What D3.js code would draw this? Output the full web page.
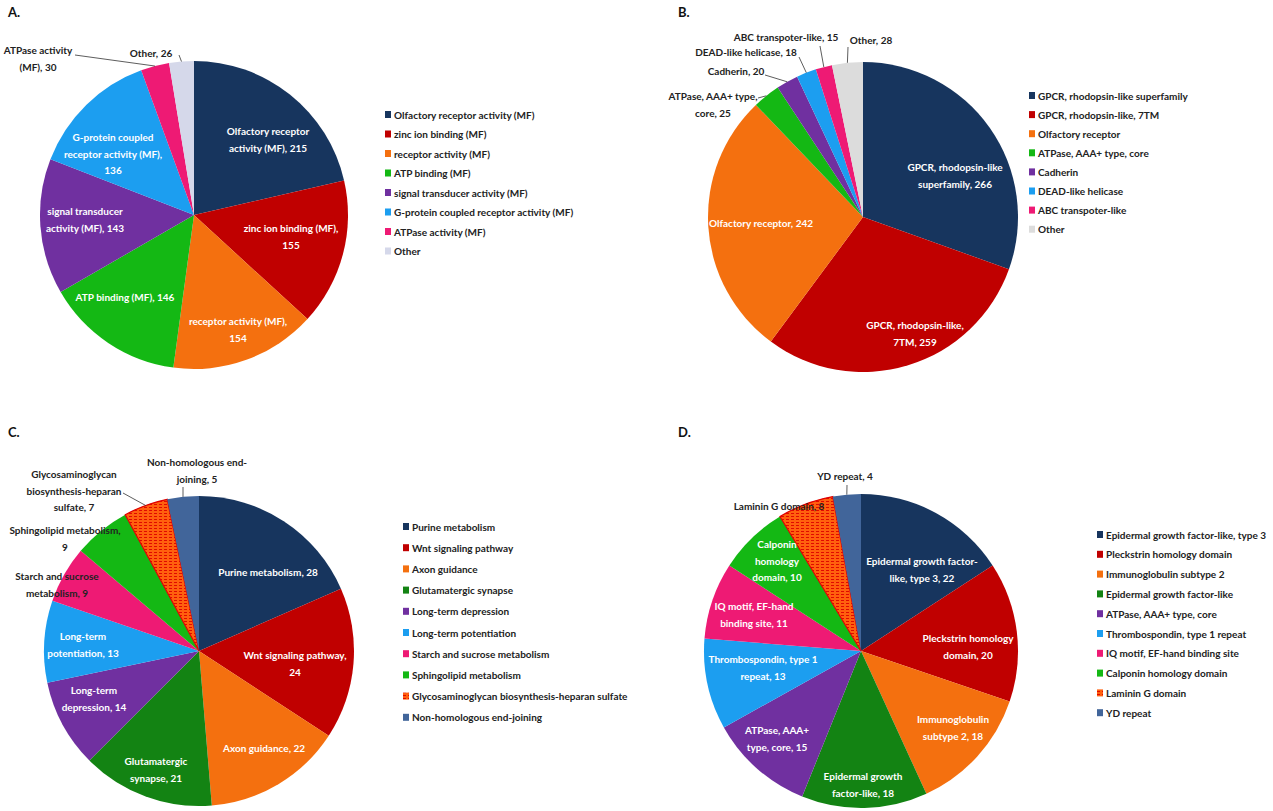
<!DOCTYPE html>
<html>
<head>
<meta charset="utf-8">
<script src="https://cdn.jsdelivr.net/npm/d3@7"></script>
<style>
  body { margin: 0; background: #fff; }
  text { font-family: Lato, "Noto Sans", sans-serif; font-weight: 700; }
</style>
</head>
<body>
<script>
// colours used in all four pies
var navy = "#17355e", red = "#c00000", orange = "#f4700f", green = "#14b814",
    dkgreen = "#138313", purple = "#7030a0", blue = "#1c9ef0", pink = "#ee1a74",
    steel = "#41659a";

// A. GO terms
var catsA = ["Olfactory receptor activity (MF)", "zinc ion binding (MF)", "receptor activity (MF)",
  "ATP binding (MF)", "signal transducer activity (MF)", "G-protein coupled receptor activity (MF)",
  "ATPase activity (MF)", "Other"];
var valsA = [215, 155, 154, 146, 143, 136, 30, 26];
var labelsA = [["Olfactory receptor", "activity (MF), {v}"], ["zinc ion binding (MF),", "{v}"],
  ["receptor activity (MF),", "{v}"], ["ATP binding (MF), {v}"], ["signal transducer", "activity (MF), {v}"],
  ["G-protein coupled", "receptor activity (MF),", "{v}"], ["ATPase activity", "(MF), {v}"], ["Other, {v}"]];

// B. InterPro
var catsB = ["GPCR, rhodopsin-like superfamily", "GPCR, rhodopsin-like, 7TM", "Olfactory receptor",
  "ATPase, AAA+ type, core", "Cadherin", "DEAD-like helicase", "ABC transpoter-like", "Other"];
var valsB = [266, 259, 242, 25, 20, 18, 15, 28];
var labelsB = [["GPCR, rhodopsin-like", "superfamily, {v}"], ["GPCR, rhodopsin-like,", "7TM, {v}"],
  ["Olfactory receptor, {v}"], ["ATPase, AAA+ type,", "core, {v}"], ["Cadherin, {v}"],
  ["DEAD-like helicase, {v}"], ["ABC transpoter-like, {v}"], ["Other, {v}"]];

// C. KEGG pathways
var catsC = ["Purine metabolism", "Wnt signaling pathway", "Axon guidance", "Glutamatergic synapse",
  "Long-term depression", "Long-term potentiation", "Starch and sucrose metabolism",
  "Sphingolipid metabolism", "Glycosaminoglycan biosynthesis-heparan sulfate", "Non-homologous end-joining"];
var valsC = [28, 24, 22, 21, 14, 13, 9, 9, 7, 5];
var labelsC = [["Purine metabolism, {v}"], ["Wnt signaling pathway,", "{v}"], ["Axon guidance, {v}"],
  ["Glutamatergic", "synapse, {v}"], ["Long-term", "depression, {v}"], ["Long-term", "potentiation, {v}"],
  ["Starch and sucrose", "metabolism, {v}"], ["Sphingolipid metabolism,", "{v}"],
  ["Glycosaminoglycan", "biosynthesis-heparan", "sulfate, {v}"], ["Non-homologous end-", "joining, {v}"]];

// D. domains
var catsD = ["Epidermal growth factor-like, type 3", "Pleckstrin homology domain", "Immunoglobulin subtype 2",
  "Epidermal growth factor-like", "ATPase, AAA+ type, core", "Thrombospondin, type 1 repeat",
  "IQ motif, EF-hand binding site", "Calponin homology domain", "Laminin G domain", "YD repeat"];
var valsD = [22, 20, 18, 18, 15, 13, 11, 10, 8, 4];
var labelsD = [["Epidermal growth factor-", "like, type 3, {v}"], ["Pleckstrin homology", "domain, {v}"],
  ["Immunoglobulin", "subtype 2, {v}"], ["Epidermal growth", "factor-like, {v}"], ["ATPase, AAA+", "type, core, {v}"],
  ["Thrombospondin, type 1", "repeat, {v}"], ["IQ motif, EF-hand", "binding site, {v}"],
  ["Calponin", "homology", "domain, {v}"], ["Laminin G domain, {v}"], ["YD repeat, {v}"]];

var svg = d3.select("body").append("svg").attr("width", 1273).attr("height", 811);

// hatched orange/red fill for the small slice in C and D
var defs = svg.append("defs");
var pat = defs.append("pattern").attr("id", "hatch").attr("patternUnits", "userSpaceOnUse")
    .attr("width", 5).attr("height", 3);
pat.append("rect").attr("width", 5).attr("height", 3).attr("fill", "#ff600e");
pat.append("rect").attr("width", 3).attr("height", 1).attr("fill", "#e00a00");

var panels = [
  { tag: "A.", tx: 8, ty: 17, cx: 194, cy: 215, r: 154, cats: catsA, vals: valsA, labels: labelsA,
    colors: [navy, red, orange, green, purple, blue, pink, "#d5d8ea"],
    pos: [[74, -75], [97, 22], [44, 115], [-69, 82], [-109, 5], [-81, -61], [-156, -156], [-43, -162]],
    white: [1, 1, 1, 1, 1, 1, 0, 0],
    lead: [null, null, null, null, null, null, [-119, -160], [-15, -160]],
    lx: 385, ly: 115, lgap: 19.5 },
  { tag: "B.", tx: 678, ty: 17, cx: 863, cy: 217, r: 155, cats: catsB, vals: valsB, labels: labelsB,
    colors: [navy, red, orange, green, purple, blue, pink, "#dcdcdc"],
    pos: [[92, -41], [52, 117], [-102, 6], [-150, -112], [-127, -146], [-117, -165], [-77, -180], [8, -177]],
    white: [1, 1, 1, 0, 0, 0, 0, 0],
    lead: [null, null, null, [-105, -119], [-98, -142], [-64, -160], [-43, -171], [-15, -170]],
    lx: 1029, ly: 96, lgap: 19.1 },
  { tag: "C.", tx: 8, ty: 437, cx: 199, cy: 651, r: 155, cats: catsC, vals: valsC, labels: labelsC,
    colors: [navy, red, orange, dkgreen, purple, blue, pink, green, "url(#hatch)", steel],
    pos: [[69, -79], [96, 13], [65, 97], [-43, 119], [-105, 48], [-116, -6], [-142, -66], [-134, -112],
      [-125, -160], [-2, -180]],
    white: [1, 1, 1, 1, 1, 1, 0, 0, 0, 0],
    lead: [null, null, null, null, null, null, null, null, [-76, -158], [-16, -164]],
    lx: 403, ly: 527, lgap: 21.2 },
  { tag: "D.", tx: 678, ty: 437, cx: 861, cy: 651, r: 157, cats: catsD, vals: valsD, labels: labelsD,
    colors: [navy, red, orange, dkgreen, purple, blue, pink, green, "url(#hatch)", steel],
    pos: [[61, -81], [107, -4], [92, 77], [2, 134], [-84, 88], [-98, 17], [-107, -36], [-84, -90],
      [-82, -145], [-16, -175]],
    white: [1, 1, 1, 1, 1, 1, 1, 1, 0, 0],
    lead: [null, null, null, null, null, null, null, null, null, [-14, -166]],
    lx: 1097, ly: 535, lgap: 19.8 }
];

var pie = d3.pie().sort(null).value(function(d) { return d; });
var lineH = 16.5;

panels.forEach(function(p) {
  svg.append("text").attr("x", p.tx).attr("y", p.ty).attr("font-size", 13).attr("fill", "#111").text(p.tag);

  var g = svg.append("g").attr("transform", "translate(" + p.cx + "," + p.cy + ")");
  var arcs = pie(p.vals);
  var arc = d3.arc().innerRadius(0).outerRadius(p.r);
  var rim = d3.arc().innerRadius(p.r).outerRadius(p.r);

  g.selectAll("path.slice").data(arcs).enter().append("path")
      .attr("class", "slice")
      .attr("d", arc)
      .attr("fill", function(d, i) { return p.colors[i]; })
      .attr("stroke", function(d, i) { return p.colors[i].indexOf("url") == 0 ? "#e00000" : "none"; })
      .attr("stroke-width", 1.2);

  // leader lines for small slices
  arcs.forEach(function(d, i) {
    if (!p.lead[i]) return;
    var end = rim.centroid(d);
    g.append("line")
        .attr("x1", p.lead[i][0]).attr("y1", p.lead[i][1])
        .attr("x2", end[0]).attr("y2", end[1])
        .attr("stroke", "#333").attr("stroke-width", 0.8);
  });

  // slice labels
  arcs.forEach(function(d, i) {
    var lines = p.labels[i];
    var t = g.append("text")
        .attr("text-anchor", "middle")
        .attr("font-size", 10)
        .attr("fill", p.white[i] ? "#fff" : "#222");
    var y0 = p.pos[i][1] - (lines.length - 1) * lineH / 2 + 3.5;
    lines.forEach(function(s, k) {
      t.append("tspan").attr("x", p.pos[i][0]).attr("y", y0 + k * lineH)
          .text(s.replace("{v}", p.vals[i]));
    });
  });

  // legend
  var lg = svg.append("g").attr("transform", "translate(" + p.lx + "," + p.ly + ")");
  p.cats.forEach(function(c, i) {
    lg.append("rect").attr("x", 0).attr("y", i * p.lgap - 4).attr("width", 6).attr("height", 7)
        .attr("fill", p.colors[i]);
    lg.append("text").attr("x", 9).attr("y", i * p.lgap + 3.5)
        .attr("font-size", 10).attr("fill", "#222").text(c);
  });
});
</script>
</body>
</html>
